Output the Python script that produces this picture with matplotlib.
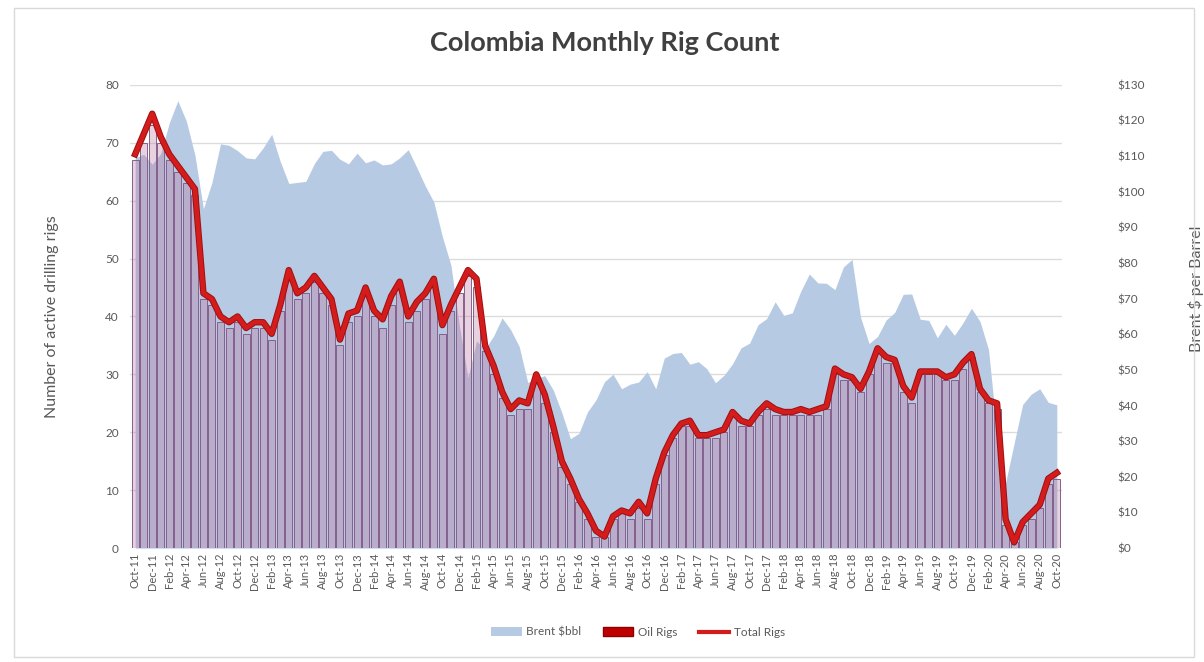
import matplotlib
matplotlib.use("Agg")
import matplotlib.pyplot as plt
import matplotlib.patheffects as pe
from matplotlib.patches import Patch, Rectangle
from matplotlib.lines import Line2D
import numpy as np
import pandas as pd

plt.rcParams['font.family'] = ['Lato', 'DejaVu Sans']

# Monatskategorien Oct-11 .. Oct-20
months = pd.date_range('2011-10-01', '2020-10-01', freq='MS').strftime('%b-%y').tolist()

# Brent $/bbl (Sekundaerachse)
brent = [109.5, 110.5, 107.7,
         110.7, 119.3, 125.5, 119.8, 110.3, 95.2, 102.6, 113.4, 113.0, 111.5, 109.5, 109.2,
         112.3, 116.1, 108.5, 102.3, 102.6, 102.9, 107.9, 111.3, 111.6, 109.1, 107.8, 110.8,
         108.1, 108.9, 107.5, 107.8, 109.5, 111.8, 106.8, 101.6, 97.1, 87.4, 79.4, 62.3,
         47.8, 58.1, 55.9, 59.5, 64.6, 61.3, 56.6, 46.5, 47.6, 48.4, 44.3, 38.0,
         30.7, 32.2, 38.2, 41.6, 46.7, 48.8, 44.7, 46.0, 46.6, 49.5, 44.7, 53.3,
         54.6, 54.9, 51.6, 52.3, 50.3, 46.4, 48.5, 51.7, 56.2, 57.5, 62.7, 64.4,
         69.1, 65.3, 66.0, 72.1, 76.9, 74.4, 74.3, 72.5, 78.9, 81.0, 64.8, 57.4,
         59.4, 64.0, 66.1, 71.2, 71.3, 64.2, 63.9, 59.0, 62.8, 59.7, 63.2, 67.3,
         63.6, 55.7, 32.0, 18.4, 29.4, 40.3, 43.2, 44.7, 40.9, 40.2]

oil_rigs = [67, 70, 73, 70, 67, 65, 63, 61, 43, 42,
            39, 38, 39, 37, 38, 38, 36, 41, 47, 43,
            44, 46, 44, 42, 35, 39, 40, 44, 40, 38,
            42, 45, 39, 41, 43, 45, 37, 41, 44, 47,
            45, 34, 30, 26, 23, 24, 24, 29, 25, 20,
            14, 11, 8, 5, 2, 2, 5, 6, 5, 7,
            5, 11, 16, 19, 21, 21, 19, 19, 19, 20,
            23, 21, 21, 23, 24, 23, 23, 23, 23, 23,
            23, 24, 30, 29, 29, 27, 30, 34, 32, 32,
            27, 25, 30, 30, 30, 29, 29, 31, 33, 27,
            25, 24, 4, 1, 4, 5, 7, 11, 12]

total_rigs = [68, 71.5, 75, 71, 68, 66, 64, 62, 44, 43,
              40, 39, 40, 38, 39, 39, 37, 42, 48, 44,
              45, 47, 45, 43, 36, 40.5, 41, 45, 41, 39.5,
              43.5, 46, 40, 42.5, 44, 46.5, 38.5, 42, 45, 48,
              46.5, 35, 31.5, 27, 24, 25.5, 25, 30, 26.5, 21,
              15, 12, 8.5, 6, 3, 2, 5.5, 6.5, 6, 8,
              6, 12, 16.5, 19.5, 21.5, 22, 19.5, 19.5, 20, 20.5,
              23.5, 22, 21.5, 23.5, 25, 24, 23.5, 23.5, 24, 23.5,
              24, 24.5, 31, 30, 29.5, 27.5, 30.5, 34.5, 33, 32.5,
              28, 26, 30.5, 30.5, 30.5, 29.5, 30, 32, 33.5, 27.5,
              25.5, 25, 5, 1, 4.5, 6, 7.5, 12, 13]

left_ticks = list(range(0, 81, 10))
right_ticks = list(range(0, 131, 10))

text_col = '#595959'
area_col = '#b7cae3'
red = '#d41c1c'

fig = plt.figure(figsize=(12.04, 6.62), dpi=100)
ax = fig.add_axes([0.108, 0.172, 0.774, 0.700])
ax2 = ax.twinx()

x = np.arange(len(months))

# Brent Flaeche auf der Sekundaerachse (hinten)
ax2.fill_between(x, brent, 0, color=area_col, linewidth=0, zorder=2)
ax2.set_ylim(0, 130)
for v in left_ticks[1:]:
    ax2.axhline(v * 130 / 80, color='#dcdcdc', linewidth=1, zorder=1)

# Balken und Linie vorne
ax.set_zorder(ax2.get_zorder() + 1)
ax.patch.set_visible(False)
ax.bar(x, oil_rigs, width=0.82, color=(0.74, 0.45, 0.62, 0.32),
       edgecolor='#85608c', linewidth=0.7, zorder=2)
ax.plot(x, total_rigs, color=red, linewidth=3.2, zorder=3,
        path_effects=[pe.Stroke(linewidth=4.6, foreground='#9c1010'), pe.Normal()])

ax.set_xlim(-0.6, len(months) - 0.4)
ax.set_ylim(0, 80)
ax.set_yticks(left_ticks)
ax2.set_yticks(right_ticks)
ax2.set_yticklabels(['$%d' % v for v in right_ticks])
ax.set_xticks(x[::2])
ax.set_xticklabels(months[::2], rotation=90)

for a in (ax, ax2):
    for s in a.spines.values():
        s.set_visible(False)
ax.tick_params(axis='both', length=0, colors=text_col, labelsize=8)
ax.tick_params(axis='y', pad=8, labelsize=8.5)
ax2.tick_params(axis='y', length=0, colors=text_col, labelsize=8.5, pad=40)

ax.set_ylabel('Number of active drilling rigs', color=text_col, fontsize=11.5)
ax.yaxis.set_label_coords(-0.076, 0.5)
ax2.set_ylabel('Brent $ per Barrel', color=text_col, fontsize=11.5, rotation=90)
ax2.yaxis.set_label_coords(1.135, 0.56)

fig.text(0.502, 0.935, 'Colombia Monthly Rig Count', ha='center', va='center',
         fontsize=19.5, fontweight='bold', color='#404040')

handles = [Patch(facecolor=area_col, edgecolor='none'),
           Patch(facecolor='#c00000', edgecolor='#8b0000'),
           Line2D([0], [0], color=red, linewidth=3)]
fig.legend(handles, ['Brent $bbl', 'Oil Rigs', 'Total Rigs'], loc='center',
           bbox_to_anchor=(0.53, 0.045), ncol=3, frameon=False, fontsize=8.5,
           labelcolor=text_col, handlelength=2.6, columnspacing=1.8, handletextpad=0.4)

fig.add_artist(Rectangle((0.012, 0.008), 0.98, 0.98, transform=fig.transFigure,
                         fill=False, edgecolor='#d9d9d9', linewidth=1))

plt.savefig('out.png', dpi=100)
